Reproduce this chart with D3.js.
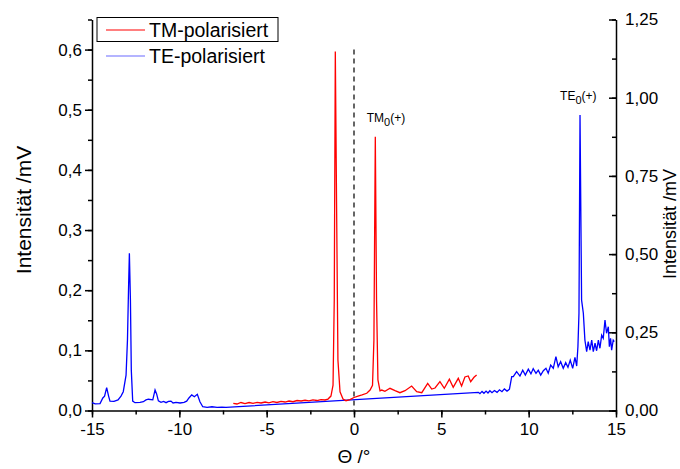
<!DOCTYPE html>
<html>
<head>
<meta charset="utf-8">
<script src="https://cdn.jsdelivr.net/npm/d3@7"></script>
<style>
  body { margin: 0; background: #fff; }
  svg { display: block; font-family: Arial, "Liberation Sans", sans-serif; }
</style>
</head>
<body>
<svg id="chart" width="680" height="469"></svg>
<script>
// TE-polarisiert (right axis, mV)
const teX = [-15.0, -14.82, -14.54, -14.38, -14.28, -14.16, -14.05, -13.97, -13.74, -13.51, -13.34, -13.21,
  -13.05, -12.97, -12.91, -12.86, -12.80, -12.75, -12.67, -12.54, -12.25, -12.06, -11.91, -11.77, -11.52,
  -11.39, -11.30, -11.2, -11.05, -10.9, -10.76, -10.62, -10.48, -10.36, -10.19, -9.96, -9.73, -9.58, -9.45,
  -9.29, -9.14, -8.97, -8.82, -8.66, -8.41, -8.13, -7.84, -7.56, -7.33,
  7.12, 7.21, 7.33, 7.44, 7.56, 7.67, 7.78, 7.90, 8.04, 8.19, 8.33, 8.47, 8.61, 8.76, 8.90,
  9.03, 9.12, 9.31, 9.50, 9.66, 9.81, 9.98, 10.13, 10.26, 10.42, 10.55, 10.69, 10.84, 10.99, 11.12, 11.26,
  11.41, 11.56, 11.69, 11.83, 11.98, 12.12, 12.25, 12.38, 12.52, 12.65, 12.75, 12.82, 12.88, 12.94, 13.03,
  13.13, 13.22, 13.32, 13.41, 13.51, 13.61, 13.70, 13.80, 13.89, 13.99, 14.08, 14.18, 14.27, 14.37, 14.46,
  14.56, 14.62, 14.69, 14.75, 14.84, 14.90];
const teY = [0.025, 0.021, 0.022, 0.040, 0.046, 0.073, 0.046, 0.030, 0.029, 0.034, 0.046, 0.060,
  0.113, 0.225, 0.385, 0.503, 0.353, 0.129, 0.030, 0.025, 0.026, 0.028, 0.034, 0.036, 0.034,
  0.066, 0.053, 0.031, 0.026, 0.029, 0.025, 0.029, 0.030, 0.024, 0.026, 0.024, 0.026, 0.030, 0.040,
  0.050, 0.044, 0.052, 0.028, 0.012, 0.010, 0.012, 0.010, 0.011, 0.010,
  0.058, 0.054, 0.061, 0.055, 0.062, 0.056, 0.063, 0.057, 0.064, 0.058, 0.066, 0.060, 0.069, 0.062, 0.068,
  0.108, 0.108, 0.124, 0.110, 0.129, 0.113, 0.132, 0.117, 0.134, 0.119, 0.129, 0.113, 0.127, 0.135, 0.119, 0.145,
  0.135, 0.172, 0.140, 0.156, 0.135, 0.153, 0.138, 0.161, 0.135, 0.170, 0.142, 0.204, 0.311, 0.945, 0.353,
  0.311, 0.225, 0.188, 0.220, 0.193, 0.225, 0.188, 0.215, 0.191, 0.225, 0.199, 0.241, 0.231, 0.289, 0.247,
  0.268, 0.204, 0.231, 0.193, 0.225, 0.220];

// TM-polarisiert (left axis, mV)
const tmX = [-6.91, -6.70, -6.47, -6.24, -6.01, -5.78, -5.55, -5.32, -5.09, -4.87, -4.64, -4.41, -4.18,
  -3.95, -3.72, -3.49, -3.26, -3.03, -2.80, -2.58, -2.35, -2.12, -1.89, -1.66, -1.49, -1.32, -1.20, -1.13,
  -1.07, -1.0, -0.92, -0.80, -0.63, -0.46, -0.23, 0, 0.23, 0.46, 0.73, 0.92, 1.06, 1.14, 1.22, 1.29, 1.37,
  1.49, 1.59, 1.77, 2.06, 2.35, 2.63, 2.92, 3.30, 3.59, 3.88, 4.22, 4.45, 4.64, 4.92, 5.17, 5.46, 5.68,
  5.97, 6.16, 6.35, 6.54, 6.68, 6.87, 7.02];
const tmY = [0.012, 0.0108, 0.0133, 0.0116, 0.0133, 0.012, 0.0136, 0.0125, 0.0141, 0.0128, 0.0146, 0.0133, 0.015,
  0.0141, 0.0158, 0.0146, 0.0166, 0.0158, 0.017, 0.0161, 0.0175, 0.0166, 0.018, 0.0175, 0.019, 0.024, 0.042, 0.184,
  0.597, 0.35, 0.084, 0.031, 0.019, 0.0163, 0.018, 0.0216, 0.024, 0.026, 0.0286, 0.034, 0.042, 0.117, 0.455, 0.184, 0.051,
  0.0326, 0.034, 0.0319, 0.0369, 0.0329, 0.0296, 0.0329, 0.0407, 0.0313, 0.0296, 0.0452, 0.0357, 0.0374, 0.0479, 0.0369, 0.0519, 0.0386,
  0.0535, 0.0407, 0.0557, 0.0574, 0.0479, 0.0552, 0.059];

const xTicks = [-15, -10, -5, 0, 5, 10, 15];
const leftTicks = [0, 0.1, 0.2, 0.3, 0.4, 0.5, 0.6];
const rightTicks = [0, 0.25, 0.5, 0.75, 1.0, 1.25];
const seriesNames = ["TM-polarisiert", "TE-polarisiert"];
const seriesColors = ["#ff0000", "#0000ff"];

const svg = d3.select("#chart");
const plotL = 92, plotR = 616, plotT = 19.5, plotB = 410.5;

const x = d3.scaleLinear().domain([-15, 15]).range([plotL, plotR]);
const yL = d3.scaleLinear().domain([0, 0.65]).range([plotB, plotT]);
const yR = d3.scaleLinear().domain([0, 1.25]).range([plotB, plotT]);

const loc = d3.formatLocale({ decimal: ",", thousands: ".", grouping: [3], currency: ["", ""], minus: "-" });

// minor ticks
svg.append("g").attr("transform", `translate(0,${plotB})`)
  .call(d3.axisBottom(x).tickValues(d3.range(-15, 15.1, 2.5)).tickSize(4).tickFormat(""))
  .call(g => g.select(".domain").remove());
svg.append("g").attr("transform", `translate(${plotL},0)`)
  .call(d3.axisLeft(yL).tickValues(d3.range(0, 0.66, 0.05)).tickSize(4).tickFormat(""))
  .call(g => g.select(".domain").remove());
svg.append("g").attr("transform", `translate(${plotR},0)`)
  .call(d3.axisRight(yR).tickValues(d3.range(0, 1.26, 0.125)).tickSize(-4).tickFormat(""))
  .call(g => g.select(".domain").remove());

// major axes
const xAxis = svg.append("g").attr("transform", `translate(0,${plotB})`)
  .call(d3.axisBottom(x).tickValues(xTicks).tickSize(7).tickSizeOuter(0).tickPadding(5).tickFormat(loc.format("d")));
const lAxis = svg.append("g").attr("transform", `translate(${plotL},0)`)
  .call(d3.axisLeft(yL).tickValues(leftTicks).tickSize(7).tickSizeOuter(0).tickPadding(3).tickFormat(loc.format(".1f")));
const rAxis = svg.append("g").attr("transform", `translate(${plotR},0)`)
  .call(d3.axisRight(yR).tickValues(rightTicks).tickSize(-7).tickSizeOuter(0).tickPadding(9).tickFormat(loc.format(".2f")));

svg.selectAll(".tick line, .domain").attr("stroke", "#000").attr("stroke-width", 1.5);
[xAxis, lAxis, rAxis].forEach(a => a.selectAll("text").attr("font-size", 17).attr("fill", "#000")
  .attr("font-family", "Arial, 'Liberation Sans', sans-serif"));

// dashed zero line
svg.append("line")
  .attr("x1", x(0)).attr("x2", x(0))
  .attr("y1", yL(0.6)).attr("y2", plotB)
  .attr("stroke", "#333").attr("stroke-width", 1.5).attr("stroke-dasharray", "5,4");

// curves
const te = teX.map((d, i) => [d, teY[i]]);
const tm = tmX.map((d, i) => [d, tmY[i]]);

svg.append("path").datum(te)
  .attr("fill", "none").attr("stroke", seriesColors[1]).attr("stroke-width", 1.3)
  .attr("d", d3.line().x(d => x(d[0])).y(d => yR(d[1])));
svg.append("path").datum(tm)
  .attr("fill", "none").attr("stroke", seriesColors[0]).attr("stroke-width", 1.3)
  .attr("d", d3.line().x(d => x(d[0])).y(d => yL(d[1])));

// peak labels
function peakLabel(px, py, name) {
  const t = svg.append("text").attr("x", px).attr("y", py).attr("font-size", 12).attr("fill", "#000");
  t.append("tspan").text(name);
  t.append("tspan").attr("dy", 4).attr("font-size", 11).text("0");
  t.append("tspan").attr("dy", -4).text("(+)");
}
peakLabel(x(0.73), 122, "TM");
peakLabel(x(11.8), 100, "TE");

// legend
svg.append("rect").attr("x", 97).attr("y", 17.5).attr("width", 181).attr("height", 24)
  .attr("fill", "none").attr("stroke", "#000").attr("stroke-width", 1);
const legY = [30, 56];
seriesNames.forEach((n, i) => {
  svg.append("line").attr("x1", 106).attr("x2", 145).attr("y1", legY[i]).attr("y2", legY[i])
    .attr("stroke", i ? "#6b6bff" : seriesColors[0]).attr("stroke-width", 1.2);
  svg.append("text").attr("x", 149).attr("y", legY[i] + 6.5).attr("font-size", 19.5).text(n);
});

// axis titles
svg.append("text").attr("transform", "translate(31,210) rotate(-90)")
  .attr("text-anchor", "middle").attr("font-size", 21).text("Intensität /mV");
svg.append("text").attr("transform", "translate(676,224) rotate(-90)")
  .attr("text-anchor", "middle").attr("font-size", 18).text("Intensität /mV");
svg.append("text").attr("x", x(0)).attr("y", 463)
  .attr("text-anchor", "middle").attr("font-size", 19).text("Θ /°");
</script>
</body>
</html>
